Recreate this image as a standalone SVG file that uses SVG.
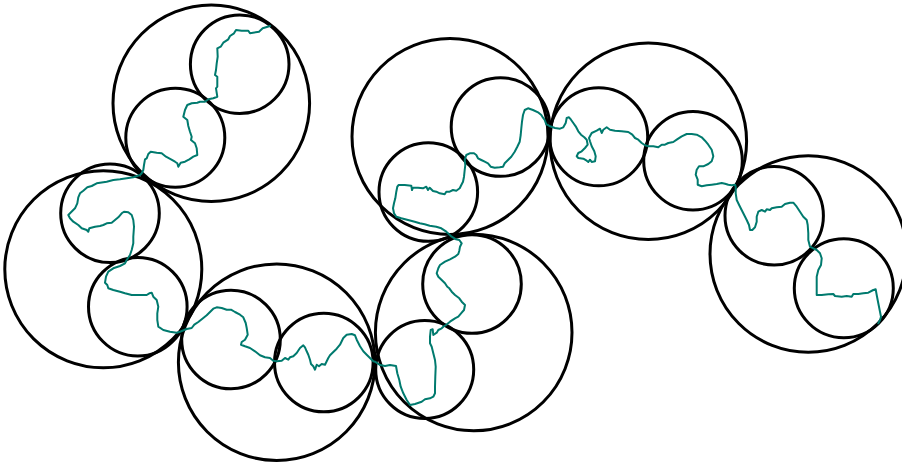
<svg xmlns="http://www.w3.org/2000/svg" width="902" height="463" viewBox="0 0 902 463">
<style>
.c{fill:none;stroke:#000;stroke-width:3}
.p{fill:none;stroke:#007A6E;stroke-width:2;stroke-linejoin:round;stroke-linecap:round}
</style>
<rect width="902" height="463" fill="#fff"/>
<g id="cluster1"><circle class="c" cx="211.3" cy="103.3" r="98.3"/><circle class="c" cx="239.7" cy="64.2" r="49.3"/><circle class="c" cx="175.3" cy="137.8" r="49.5"/></g>
<g id="cluster2"><circle class="c" cx="103.3" cy="269.2" r="98.5"/><circle class="c" cx="110" cy="213.3" r="49.3"/><circle class="c" cx="137.8" cy="306.7" r="49.3"/></g>
<g id="cluster3"><circle class="c" cx="276.7" cy="362.2" r="98.3"/><circle class="c" cx="231" cy="339.5" r="49.3"/><circle class="c" cx="323.8" cy="362.5" r="49.3"/></g>
<g id="cluster4"><circle class="c" cx="450" cy="136.5" r="98"/><circle class="c" cx="500.5" cy="127" r="49.3"/><circle class="c" cx="428.3" cy="192" r="49.3"/></g>
<g id="cluster5"><circle class="c" cx="473.7" cy="332.5" r="98.3"/><circle class="c" cx="472" cy="284" r="49.3"/><circle class="c" cx="424.7" cy="369.5" r="49"/></g>
<g id="cluster6"><circle class="c" cx="648.3" cy="141.3" r="98.3"/><circle class="c" cx="598.7" cy="136.8" r="49"/><circle class="c" cx="693" cy="160.7" r="49.3"/></g>
<g id="cluster7"><circle class="c" cx="808.3" cy="254" r="98.3"/><circle class="c" cx="774.2" cy="215.8" r="49.2"/><circle class="c" cx="843.8" cy="288.3" r="49.5"/></g>
<g id="connectors">
<path class="p" d="M270,26 L262.7,28.3 259,31.7 250,33.3 248.3,30.7 241.7,30.7 236,30 234,33.3 230,36 228.3,39.3 223.3,42.7 220.7,46.7 217.3,48.3 217.7,56.7 216.7,63.3 216,70 215,75 217.3,76.7 217.3,86.7 216,88.3 217.3,96.7 213.3,98.3 208.3,99.3 205,101.7 200,101.7 197.3,102.7 191.7,103.3 187.3,105 185,110 183.3,116.7 187.3,120 188.3,126 190,131.7 191.7,136.7 191,140 195,143.3 196.7,148.3 197.3,155 193.3,156.7 189.3,159.3 185,161.7 180.7,162.7 178.3,166.7 177.3,163.3 175,161.7 171,159.3 166,156.7 161.7,153.3 156.7,152.7 150.7,151.7 148.3,154 146.7,158.3 145,159.3 144,165 143.3,170 141.7,173.3 140,175
L133.3,177.3 126.7,178.3 120,179.3 113.3,180 106.7,181.7 100,182.7 96.7,183.3 91.7,186 87.3,187.3 83.3,190.7 80,193.3 78.3,197.3 77.3,203.3 75,208.3 70,213.3 68.3,215 70,218.3 73.3,221.7 78.3,225 81.7,228.3 86.7,230 88.3,231.7 89.3,228.3 95,226.7 100,226 103.3,225 106.7,223.3 111.7,222.7 115,220 118.3,217.3 121.7,213.3 124,211.7 128.3,212.3 131.7,215 133.3,220 134,226.7 133.3,236.7 133.3,243.3 131.7,250 130,255 126.7,260 125,263.3 120,266 113.3,268.3 108.3,271.7 106,276.7 105,282.7 107.3,285 108.3,288.3 113.3,290 120,291.7 125,293.3 131.7,295 140,295 146.7,295 149.3,293.3 151.7,292.7 153.3,296.7 156.7,300 158.3,306.7 157.3,313.3 157.3,320 158.3,326.7 163.3,330 170,331.7 176.7,332.7 180,331.7
L186.7,329 191.7,328 194.3,324.7 198.3,322 203.3,318 206.7,315.3 210,312 213.3,308.7 216.7,307.3 221.7,308 226.7,309.7 231,309.7 235,312 240,314.7 243.3,317.3 245.7,323 246.7,328 247.7,334.7 245,339.7 241.7,342 241,344.7 245,346.3 250,348 255,351.3 260,355.3 265,357.3 270,358 273.3,360.7 276.7,361.3 281.7,360.7 285,358 288.3,359.7 290,357.3 293.3,356.3 296.7,353 300,348 303.3,345.3 305,347.3 306.7,351.3 308.3,354.7 310,359.7 311,364 313.3,366.3 315,369.7 316.7,364.7 319,366.3 321.7,364 325,364.7 326.7,361.3 328.3,358 330,355.3 333.3,352 336.7,348.7 340,344.7 343.3,338 346.7,334.7 351.7,334 355,335.3 356.7,339.7 360,346.3 363.3,351.3 366.7,354.7 370,358 373.3,361.3
L375,361.7 380,365 385,366 390,365 396,366 397.3,373.3 399.3,380 400.7,386.7 403.3,393.3 406.7,400 410,405 415,404 421.7,401.7 425,399.3 430,398.3 433.3,396.7 435,393.3 435,386.7 435.3,376.7 435.7,366.7 435,360 433.3,353.3 431.7,346.7 430,343.3 430,336.7 430.7,330 432.7,329.3 433.3,335 436.7,332.7 438.3,330 441.7,328.3 443.3,326.7 446,325 450,321.7 455,318.3 458.3,316.7 461.7,312.7 464,310 465,305 461.7,301.7 459.3,298.3 455,295 451.7,291.7 449.3,288.3 447.3,286.7 445,283.3 441.7,280 438.3,276.7 436.7,273.3 438.3,268.3 440,265 445,261.7 450,259.3 455,256.7 458.3,254 459.3,250.7 460,246.7 461.7,243.3 459.3,240 456,239.3 451.7,236.7
L446.3,231.7 441.3,228.3 436.3,226.7 429.7,225.7 424.7,224.3 419.7,223.3 414.7,221.7 408,220 401.3,218.3 396.3,216.7 394,213.3 393,208.3 394,203.3 395.3,198.3 396.3,191.7 397.3,186.7 398.7,185 404.7,185 411.3,185.7 412,190 413,187.7 418,187.7 423,188.3 426.3,186.7 428,190 429.7,187.7 433,191 436.3,191.7 439.7,193.3 444.7,194.3 446.3,191.7 449.7,191.7 453,190 456.3,190.7 459.7,188.3 461.3,185 463,181.7 464,176.7 464.7,170 465.3,165 464.7,160 466.3,155 469.7,153.3 474,153.3 476.3,155 478,158.3 481.3,160 484.7,161.7 488,163.3 490.7,166.7 494.7,167.7 499.7,167.3 503,166.7 504.7,163.3 508,160 511.3,156.7 514.7,151.7 517.3,146.7 519.7,141.7 520.7,135 521.3,128.3 522,121.7 523,115 524.7,110 528,108.3 533,110 538,112.3 541.3,115 543,117.7 544.7,120 546.3,124.3 548,125
L550,126.3 555,128 560,128.7 563.3,127.3 565.7,123 566.7,118 569,117.3 571,119.7 573.3,123 575.7,126.3 578.3,131.3 581,134.7 584.3,137.3 586.7,139.7 587.7,144.7 585,148 581.7,151.3 578.3,153 576.7,156.3 578.3,158 583.3,158.7 586.7,160.7 588.3,162 590,159.7 591.7,162 595,161.3 595.7,156.3 594.3,151.3 591.7,146.3 590,141.3 589,138 591.7,133 596.7,130.7 600,128.7 601.7,133 603.3,129.7 606.7,127.3 610,129.7 615,130.7 621.7,131.3 628.3,132 632.3,134.7 635,138 638.3,139.7 641.7,143 645,145.3 648.3,146.3 653.3,146.3 658.3,147.3 661.7,144.7 665,144.7 668.3,143 673.3,142 676.7,139.7 681.7,136.3 686.7,134 691.7,134 696.7,134.7 701.7,137.3 705,140.7 708.3,144.7 711.7,149.7 713.3,156.3 711.7,161.3 708.3,164 703.3,166.3 699,166.3 696.7,169.7 695.7,174.7 697.7,179.7 697.7,184.7 701.7,186.3 706.7,185.3 711.7,184.7 716.7,184 721.7,183 725,183.7 728.3,184.7 731.7,185.3 735,184.7
L735.7,186.7 735.7,193.3 736.7,200 740,206.7 743.3,213.3 746.7,220 749,225 750,230 752.3,230 755,227.3 756.7,221.7 756.7,216.7 758.3,211.7 761.7,210 765,211.7 766.7,209.3 770,210 771.7,208.3 776.7,207.3 781.7,206.7 785,204 790,202.7 793.3,202.7 796.7,206.7 800,211.7 803.3,216.7 806.7,220 807.7,225 808.3,233.3 808.3,240 810,246.7 813.3,248.3 816.7,250 820,253.3 821.7,258.3 821,265 818.3,270 816.7,276.7 816.7,286.7 816.7,295 821.7,295 828.3,294.3 833.3,294 835,296 841.7,296.7 846.7,296 851.7,296.7 853.3,294 858.3,294 863.3,293.3 868.3,292.7 873.3,290 875.7,289.3 876.7,295 878.3,303.3 880,311.7 881,316.7 880,320 878.3,323.3"/>
</g>
</svg>
